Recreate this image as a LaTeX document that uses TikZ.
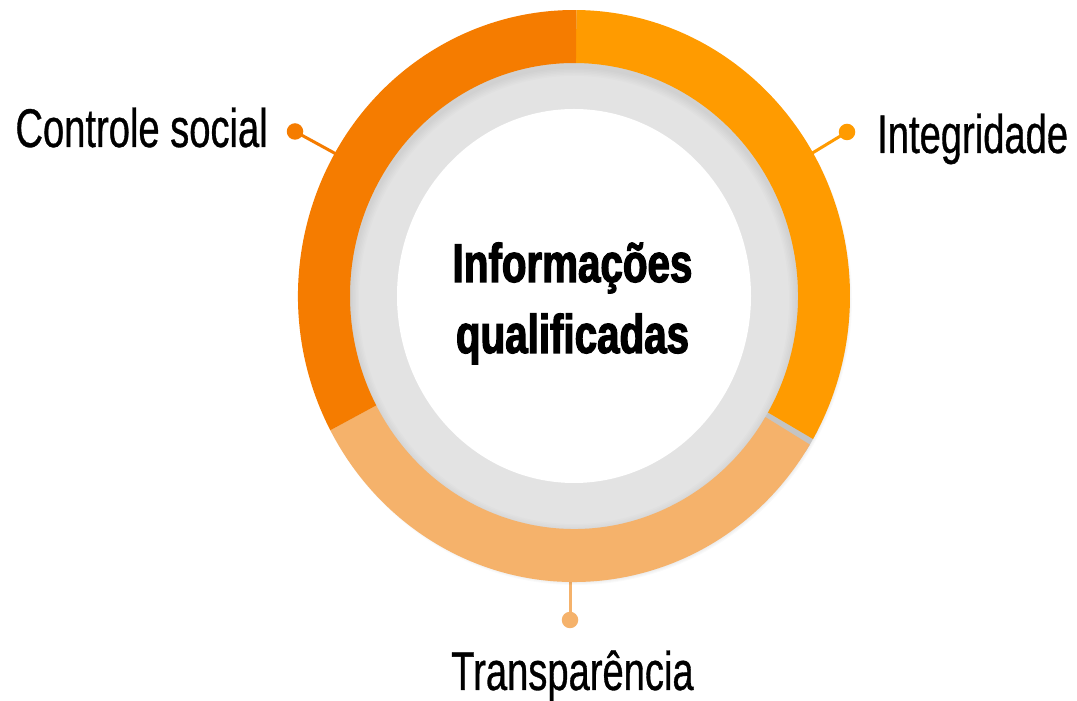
\documentclass[tikz,border=0pt]{standalone}
\usepackage{fontspec}
\setmainfont{Liberation Sans}[FakeStretch=0.70, FakeBold=0.6]
\newfontfamily\cfont{Liberation Sans}[FakeStretch=0.74, BoldFeatures={FakeBold=2.2}]
\usetikzlibrary{calc}
\definecolor{segA}{HTML}{F57C00}
\definecolor{segB}{HTML}{FF9B00}
\definecolor{segC}{HTML}{F5B26B}
\definecolor{ringgray}{HTML}{E3E3E3}
\definecolor{gapgray}{HTML}{C4C4C4}
\newcommand{\ringseg}[3]{%
  \fill[#1] ($(C)+(#2:276pt and 286pt)$)
    arc[start angle=#2, end angle=#3, x radius=276pt, y radius=286pt]
    -- ($(C)+(#3:224pt and 233pt)$)
    arc[start angle=#3, end angle=#2, x radius=224pt, y radius=233pt] -- cycle;}
\begin{document}
\begin{tikzpicture}[x=1pt,y=1pt,
  lbl/.style={inner sep=0pt, font=\fontsize{54.5}{60}\selectfont},
  ctr/.style={inner sep=0pt, font=\cfont\bfseries\fontsize{54.5}{60}\selectfont},
  dot/.style={circle, fill=#1, minimum size=16.5pt, inner sep=0pt},
  conn/.style={draw=#1, line width=3pt}]
\useasboundingbox (0,0) rectangle (1077,701);
\fill[white] (0,0) rectangle (1077,701);
\coordinate (C) at (574,405);

% connectors
\node[dot=segA] (dA) at (295,569.5) {};
\node[dot=segB] (dB) at (847,569) {};
\node[dot=segC] (dC) at (570,81) {};
\coordinate (eA) at ($(C)+(150:262pt and 272pt)$);
\coordinate (eB) at ($(C)+(30:262pt and 272pt)$);
\coordinate (eC) at (570,140);
\draw[conn=segA] (dA.center) -- (eA);
\draw[conn=segB] (dB.center) -- (eB);
\draw[conn=segC] (dC.center) -- (eC);

% soft outer shadow
\foreach \i in {1,...,8}
  \fill[black, opacity=0.018] ($(C)+(2,-3)$) ellipse [x radius={(268+\i)*1pt}, y radius={(278+\i)*1pt}];

% gray ring
\fill[ringgray] (C) ellipse [x radius=226pt, y radius=235pt];
\foreach \i in {1,...,6}
  \fill[black, opacity=0.012, even odd rule] (C) ellipse [x radius=226pt, y radius=235pt]
     ($(C)+(0,-4)$) ellipse [x radius={(224-1.5*\i)*1pt}, y radius={(233-1.5*\i)*1pt}];

% gap between segments
\ringseg{gapgray}{-28}{-33}
% segments
\ringseg{segB}{89.5}{-30}
\ringseg{segC}{-31.3}{-152}
\ringseg{segA}{208}{89.5}

% white centre
\fill[white] (C) ellipse [x radius=177pt, y radius=187pt];

% labels
\node[lbl, anchor=base east] (tA) at (268,554) {Controle social};
\node[lbl, anchor=base west] (tB) at (877,548) {Integridade};
\node[lbl, anchor=base] (tC) at (572.5,11) {Transparência};
\node[ctr, anchor=base] (m1) at (572.5,419) {Informações};
\node[ctr, anchor=base] (m2) at (572.5,348) {qualificadas};
\end{tikzpicture}
\end{document}
